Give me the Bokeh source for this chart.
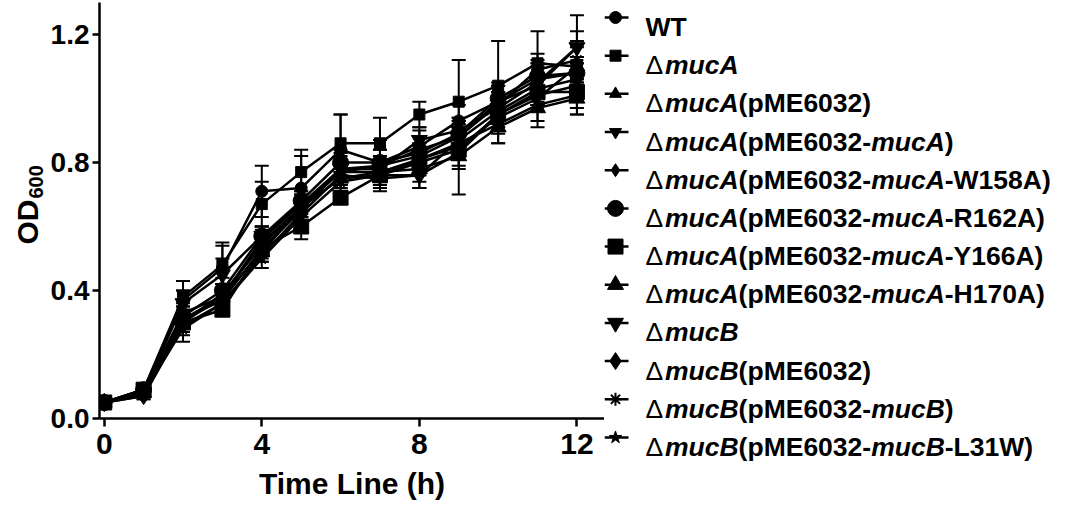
import numpy as np
from bokeh.plotting import figure
from bokeh.models import ColumnDataSource, Range1d, FixedTicker, Whisker, TeeHead, NumeralTickFormatter
from bokeh.layouts import row
from bokeh.embed import file_html
from bokeh.resources import INLINE
from bokeh.core.properties import value

# ---------------- data ----------------
time_h = [0, 1, 2, 3, 4, 5, 6, 7, 8, 9, 10, 11, 12]

od_wt        = [0.05, 0.09, 0.37, 0.47, 0.71, 0.72, 0.84, 0.80, 0.85, 0.93, 0.99, 1.06, 1.08]
od_mucA      = [0.05, 0.09, 0.38, 0.48, 0.67, 0.77, 0.86, 0.86, 0.95, 0.99, 1.04, 1.11, 1.10]
od_mucA_p    = [0.05, 0.08, 0.30, 0.38, 0.55, 0.66, 0.77, 0.77, 0.81, 0.86, 0.92, 0.98, 1.01]
od_mucA_pA   = [0.05, 0.08, 0.31, 0.37, 0.53, 0.65, 0.78, 0.79, 0.84, 0.88, 0.99, 1.04, 1.16]
od_W158A     = [0.05, 0.07, 0.29, 0.36, 0.51, 0.64, 0.76, 0.75, 0.76, 0.83, 0.95, 1.01, 1.04]
od_R162A     = [0.05, 0.09, 0.32, 0.40, 0.57, 0.68, 0.80, 0.80, 0.83, 0.89, 1.00, 1.07, 1.08]
od_Y166A     = [0.05, 0.09, 0.30, 0.34, 0.53, 0.60, 0.69, 0.76, 0.80, 0.84, 0.95, 1.02, 1.02]
od_H170A     = [0.05, 0.08, 0.33, 0.38, 0.52, 0.66, 0.75, 0.77, 0.78, 0.82, 0.91, 0.97, 1.00]
od_mucB      = [0.05, 0.08, 0.36, 0.45, 0.57, 0.67, 0.78, 0.78, 0.87, 0.90, 0.97, 1.05, 1.16]
od_mucB_p    = [0.05, 0.07, 0.30, 0.39, 0.54, 0.66, 0.75, 0.76, 0.76, 0.87, 0.96, 1.03, 1.06]
od_mucB_pB   = [0.05, 0.08, 0.31, 0.38, 0.56, 0.67, 0.77, 0.79, 0.82, 0.88, 0.98, 1.09, 1.12]
od_L31W      = [0.05, 0.08, 0.28, 0.36, 0.50, 0.63, 0.74, 0.76, 0.81, 0.85, 0.94, 1.00, 1.10]

err_wt       = [0.005, 0.01, 0.03, 0.08, 0.08, 0.10, 0.11, 0.07, 0.05, 0.05, 0.06, 0.06, 0.05]
err_mucA     = [0.005, 0.01, 0.05, 0.06, 0.07, 0.07, 0.09, 0.08, 0.04, 0.13, 0.14, 0.10, 0.07]
err_mucA_p   = [0.005, 0.01, 0.03, 0.04, 0.03, 0.03, 0.04, 0.04, 0.05, 0.05, 0.06, 0.05, 0.04]
err_mucA_pA  = [0.005, 0.01, 0.04, 0.04, 0.03, 0.03, 0.05, 0.05, 0.04, 0.05, 0.05, 0.06, 0.10]
err_W158A    = [0.005, 0.01, 0.03, 0.03, 0.02, 0.03, 0.03, 0.04, 0.04, 0.05, 0.04, 0.05, 0.05]
err_R162A    = [0.005, 0.01, 0.03, 0.04, 0.03, 0.03, 0.04, 0.04, 0.03, 0.04, 0.04, 0.04, 0.05]
err_Y166A    = [0.005, 0.01, 0.03, 0.02, 0.02, 0.04, 0.02, 0.04, 0.04, 0.05, 0.04, 0.04, 0.07]
err_H170A    = [0.005, 0.01, 0.03, 0.03, 0.03, 0.03, 0.03, 0.05, 0.04, 0.12, 0.05, 0.06, 0.05]
err_mucB     = [0.005, 0.01, 0.04, 0.05, 0.03, 0.04, 0.04, 0.04, 0.04, 0.04, 0.05, 0.06, 0.05]
err_mucB_p   = [0.005, 0.01, 0.03, 0.03, 0.03, 0.03, 0.03, 0.03, 0.04, 0.04, 0.04, 0.05, 0.05]
err_mucB_pB  = [0.005, 0.01, 0.03, 0.03, 0.03, 0.03, 0.03, 0.03, 0.03, 0.04, 0.04, 0.05, 0.06]
err_L31W     = [0.005, 0.01, 0.04, 0.03, 0.03, 0.03, 0.03, 0.03, 0.03, 0.04, 0.05, 0.04, 0.06]

x_ticks = [0, 4, 8, 12]
y_ticks = [0.0, 0.4, 0.8, 1.2]
x_title = "Time Line (h)"
y_title_main = "OD"
y_title_sub = "600"

# legend labels as (text, style) segments; "n" = delta, "b" = bold, "i" = bold italic
legend_labels = [
    [("WT", "b")],
    [("Δ", "n"), ("mucA", "i")],
    [("Δ", "n"), ("mucA", "i"), ("(pME6032)", "b")],
    [("Δ", "n"), ("mucA", "i"), ("(pME6032-", "b"), ("mucA", "i"), (")", "b")],
    [("Δ", "n"), ("mucA", "i"), ("(pME6032-", "b"), ("mucA", "i"), ("-W158A)", "b")],
    [("Δ", "n"), ("mucA", "i"), ("(pME6032-", "b"), ("mucA", "i"), ("-R162A)", "b")],
    [("Δ", "n"), ("mucA", "i"), ("(pME6032-", "b"), ("mucA", "i"), ("-Y166A)", "b")],
    [("Δ", "n"), ("mucA", "i"), ("(pME6032-", "b"), ("mucA", "i"), ("-H170A)", "b")],
    [("Δ", "n"), ("mucB", "i")],
    [("Δ", "n"), ("mucB", "i"), ("(pME6032)", "b")],
    [("Δ", "n"), ("mucB", "i"), ("(pME6032-", "b"), ("mucB", "i"), (")", "b")],
    [("Δ", "n"), ("mucB", "i"), ("(pME6032-", "b"), ("mucB", "i"), ("-L31W)", "b")],
]

od_values = [od_wt, od_mucA, od_mucA_p, od_mucA_pA, od_W158A, od_R162A,
             od_Y166A, od_H170A, od_mucB, od_mucB_p, od_mucB_pB, od_L31W]
od_errors = [err_wt, err_mucA, err_mucA_p, err_mucA_pA, err_W158A, err_R162A,
             err_Y166A, err_H170A, err_mucB, err_mucB_p, err_mucB_pB, err_L31W]

# ---------------- styles ----------------
marker_types = ["circle", "square", "triangle", "inverted_triangle", "diamond", "circle",
                "square", "triangle", "inverted_triangle", "diamond", "asterisk", "star"]
marker_sizes = [12, 11, 12, 12, 13, 16, 15, 16, 16, 17, 13, 13]

FONT = "Liberation Sans"
H = 502
LABEL_W = 47
MAIN_W = 557
LEG_W = 1052 - LABEL_W - MAIN_W

ADV = {"W": 944, "T": 611, "m": 889, "u": 611, "c": 556, "A": 722, "B": 722, "(": 333,
       ")": 333, "p": 611, "M": 833, "E": 667, "-": 333, "R": 722, "Y": 667, "H": 722,
       "L": 611, "O": 778, "D": 722}
for d in "0123456789":
    ADV[d] = 556


def tw(s, fs):
    return sum(ADV.get(ch, 600) for ch in s) / 1000.0 * fs


# ---------------- y-title strip ----------------
yl = figure(width=LABEL_W, height=H, x_range=Range1d(0, LABEL_W), y_range=Range1d(0, H),
            x_axis_location=None, y_axis_location=None, output_backend="svg",
            toolbar_location=None, min_border=0, outline_line_color=None, frame_align=False)
yl.grid.visible = False
od_fs = 30
od_y0 = 258
yl.text(x=[27], y=[od_y0], text=[y_title_main], angle=np.pi / 2, text_font=value(FONT),
        text_font_style="bold", text_font_size=f"{od_fs}px", text_align="left",
        text_baseline="alphabetic", text_color="black")
yl.text(x=[35], y=[od_y0 + tw(y_title_main, od_fs) + 1], text=[y_title_sub], angle=np.pi / 2,
        text_font=value(FONT), text_font_style="bold", text_font_size="20px",
        text_align="left", text_baseline="alphabetic", text_color="black")

# ---------------- main plot ----------------
p = figure(width=MAIN_W, height=H, x_range=Range1d(-0.12, 12.70), y_range=Range1d(0, 1.3),
           output_backend="svg", toolbar_location=None, frame_align=False,
           min_border_left=50, min_border_right=0, min_border_top=2, min_border_bottom=80)
p.grid.visible = False
p.outline_line_color = None
p.background_fill_color = "white"

p.xaxis.ticker = FixedTicker(ticks=x_ticks)
p.yaxis.ticker = FixedTicker(ticks=y_ticks)
p.yaxis.formatter = NumeralTickFormatter(format="0.0")
for ax in (p.xaxis, p.yaxis):
    ax.axis_line_width = 2.5
    ax.axis_line_color = "black"
    ax.major_tick_line_width = 2.5
    ax.major_tick_line_color = "black"
    ax.major_tick_in = 0
    ax.minor_tick_in = 0
    ax.minor_tick_out = 0
    ax.major_label_text_font = FONT
    ax.major_label_text_font_style = "bold"
    ax.major_label_text_color = "black"
p.xaxis.major_label_text_font_size = "30px"
p.yaxis.major_label_text_font_size = "28px"
p.xaxis.major_tick_out = 8
p.yaxis.major_tick_out = 7
p.xaxis.major_label_standoff = 7
p.yaxis.major_label_standoff = 3
p.xaxis.axis_label = x_title
p.xaxis.axis_label_text_font = FONT
p.xaxis.axis_label_text_font_style = "bold"
p.xaxis.axis_label_text_font_size = "30px"
p.xaxis.axis_label_text_color = "black"
p.xaxis.axis_label_standoff = 10

wx, wu, wl = [], [], []
for vals, errs in zip(od_values, od_errors):
    for t, v, e in zip(time_h, vals, errs):
        wx.append(t)
        wu.append(v + e)
        wl.append(v - e)
wsrc = ColumnDataSource(dict(t=wx, upper=wu, lower=wl))
p.add_layout(Whisker(source=wsrc, base="t", upper="upper", lower="lower",
                     line_width=2, line_color="black",
                     upper_head=TeeHead(size=14, line_width=2, line_color="black"),
                     lower_head=TeeHead(size=14, line_width=2, line_color="black")))

for vals, mk, ms in zip(od_values, marker_types, marker_sizes):
    src = ColumnDataSource(dict(t=time_h, od=vals))
    p.line("t", "od", source=src, line_width=2.5, line_color="black")
    p.scatter("t", "od", source=src, marker=mk, size=ms, fill_color="black",
              line_color="black", line_width=2 if mk == "asterisk" else 1)

# ---------------- legend strip ----------------
x0 = MAIN_W + LABEL_W
lg = figure(width=LEG_W, height=H, x_range=Range1d(x0, x0 + LEG_W), y_range=Range1d(H, 0),
            x_axis_location=None, y_axis_location=None, output_backend="svg",
            toolbar_location=None, min_border=0, outline_line_color=None, frame_align=False)
lg.grid.visible = False

row_y0 = 17
row_dy = 38.18
icon_x = 615
icon_x1 = 628
text_x = 645
leg_fs = 26.5
delta_adv = 19.5

row_ys = [row_y0 + i * row_dy for i in range(len(legend_labels))]
lg.segment(x0=[x0] * len(row_ys), y0=row_ys, x1=[icon_x1] * len(row_ys), y1=row_ys,
           line_width=2.5, line_color="black")
for yy, mk, ms in zip(row_ys, marker_types, marker_sizes):
    lg.scatter([icon_x], [yy], marker=mk, size=ms, fill_color="black", line_color="black",
               line_width=2 if mk == "asterisk" else 1)

seg = {"n": dict(x=[], y=[], t=[]), "b": dict(x=[], y=[], t=[]), "i": dict(x=[], y=[], t=[])}
for yy, parts in zip(row_ys, legend_labels):
    cx = text_x
    for txt, st in parts:
        seg[st]["x"].append(cx)
        seg[st]["y"].append(yy + 9.5)
        seg[st]["t"].append(txt)
        cx += delta_adv if st == "n" else tw(txt, leg_fs)
styles = {"n": "normal", "b": "bold", "i": "bold italic"}
for st, d in seg.items():
    lg.text(x=d["x"], y=d["y"], text=d["t"], text_font=value(FONT),
            text_font_style=styles[st], text_font_size=f"{leg_fs}px",
            text_align="left", text_baseline="alphabetic", text_color="black")

layout = row(yl, p, lg, spacing=0)
open("out.html", "w").write(file_html(layout, INLINE))
